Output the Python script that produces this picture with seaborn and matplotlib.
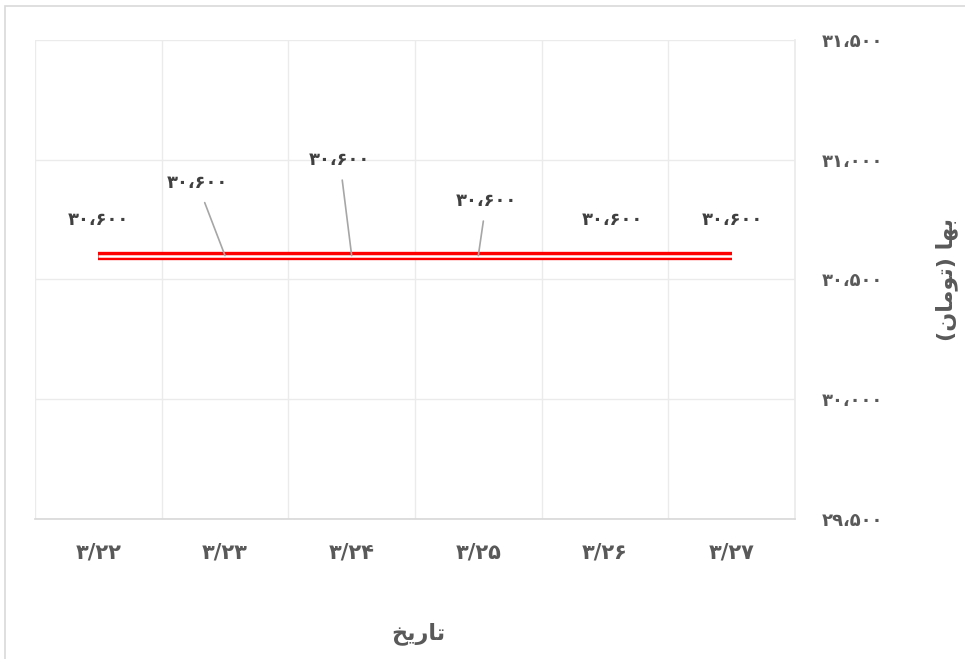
import numpy as np
import pandas as pd
import matplotlib
matplotlib.use("Agg")
import matplotlib.pyplot as plt
from matplotlib.patches import Rectangle
import seaborn as sns

# chart data
dates = ["3/22", "3/23", "3/24", "3/25", "3/26", "3/27"]
prices = [30600, 30600, 30600, 30600, 30600, 30600]
y_ticks = [29500, 30000, 30500, 31000, 31500]

# label offsets in pixels (label centre relative to point)
label_offsets = [(0, 36), (-28, 73), (-12, 96), (8, 55), (7, 36), (1, 36)]
leader = [False, True, True, True, False, False]

FA_DIGITS = str.maketrans("0123456789,", "۰۱۲۳۴۵۶۷۸۹،")


def fa(s):
    return str(s).translate(FA_DIGITS)


# Persian titles in presentation forms, visual order
x_title = "\uFEA6\uFBFE\uFEAD\uFE8E\uFE97"  # تاریخ
y_title = "(\uFEE5\uFE8E\uFEE3\uFEEE\uFE97) \uFE8E\uFEEC\uFE91"  # بها (تومان)

sns.set_theme(style="white")
plt.rcParams["font.family"] = ["DejaVu Sans"]

df = pd.DataFrame({"date": dates, "price": prices})

fig = plt.figure(figsize=(9.65, 6.59), dpi=100)
ax = fig.add_axes([35 / 965, 1 - 519 / 659, 760 / 965, 479 / 659])

sns.lineplot(data=df, x="date", y="price", ax=ax, color="#ff0000", linewidth=6,
             solid_capstyle="butt", zorder=3)
sns.lineplot(data=df, x="date", y="price", ax=ax, color="white", linewidth=1.8,
             solid_capstyle="butt", zorder=4)

ax.set_xlim(-0.5, len(dates) - 0.5)
ax.set_ylim(29500, 31500)
ax.set_yticks(y_ticks)
ax.set_yticklabels([fa(f"{v:,}") for v in y_ticks])
ax.set_xticks(range(len(dates)))
ax.set_xticklabels([fa(d) for d in dates])

ax.yaxis.tick_right()
ax.yaxis.set_label_position("right")
ax.set_xticks(np.arange(-0.5, len(dates), 1), minor=True)
ax.grid(False)
ax.grid(True, which="minor", axis="x", color="#ebebeb", linewidth=1)
ax.grid(True, which="major", axis="y", color="#ebebeb", linewidth=1)
ax.tick_params(axis="both", which="both", length=0)
ax.tick_params(axis="y", pad=19, labelsize=13, labelcolor="#595959")
ax.tick_params(axis="x", pad=17, labelsize=15, labelcolor="#595959")
for lab in ax.get_xticklabels() + ax.get_yticklabels():
    lab.set_fontweight("bold")
for lab in ax.get_yticklabels():
    lab.set_horizontalalignment("left")

for side in ["top", "left"]:
    ax.spines[side].set_visible(False)
ax.spines["right"].set_color("#ebebeb")
ax.spines["bottom"].set_color("#d9d9d9")

ax.set_xlabel(x_title, fontsize=16, fontweight="bold", color="#595959")
ax.xaxis.set_label_coords(0.504, -0.215)
ax.set_ylabel(y_title, fontsize=16, fontweight="bold", color="#595959", rotation=90)
ax.yaxis.set_label_coords(1.185, 0.5)

for i, (p, off, ld) in enumerate(zip(prices, label_offsets, leader)):
    arrow = dict(arrowstyle="-", color="#a6a6a6", lw=1.2, shrinkA=6, shrinkB=0) if ld else None
    ax.annotate(fa(f"{p:,}"), xy=(i, p), xytext=off, textcoords="offset pixels",
                ha="center", va="center", fontsize=13, fontweight="bold",
                color="#404040", arrowprops=arrow, zorder=5)

# outer chart border
fig.patches.append(Rectangle((5 / 965, -0.1), 1.2, 1.1 - 6 / 659, transform=fig.transFigure,
                             fill=False, edgecolor="#d9d9d9", linewidth=1.2, zorder=0))

fig.savefig("out.png", dpi=100)
